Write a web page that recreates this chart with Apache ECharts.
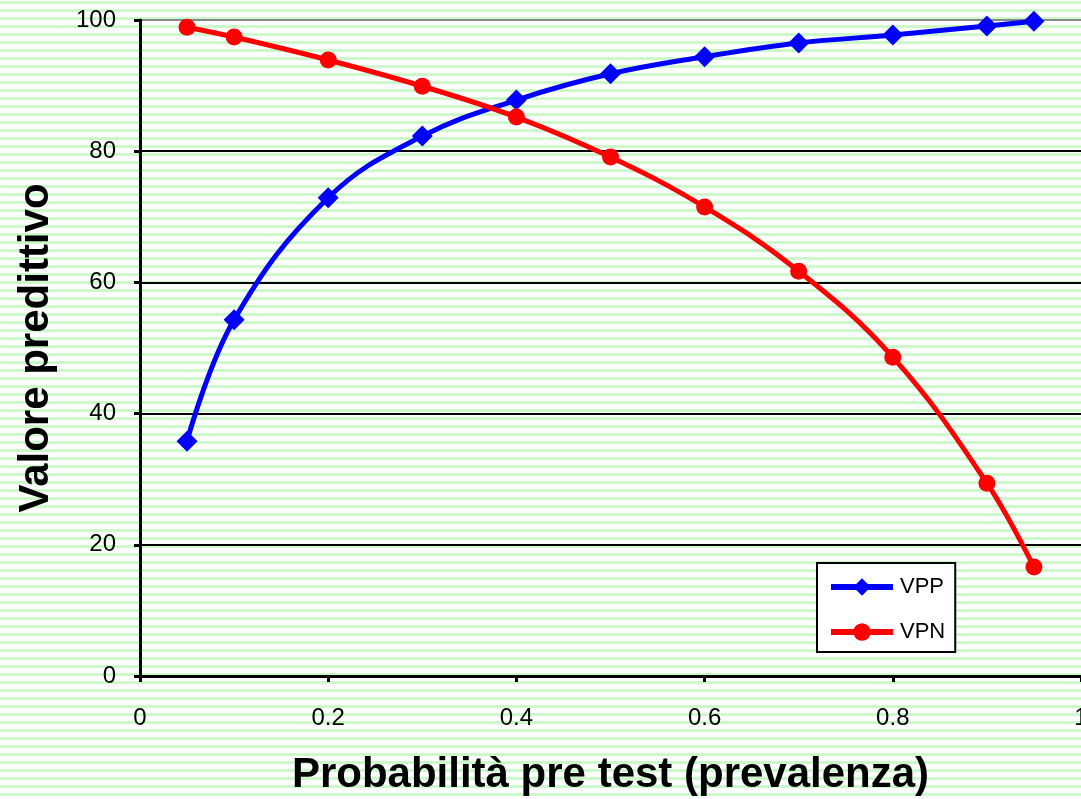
<!DOCTYPE html>
<html><head><meta charset="utf-8">
<script src="https://cdn.jsdelivr.net/npm/echarts@6/dist/echarts.min.js"></script>
<style>
html,body{margin:0;padding:0;width:1081px;height:799px;overflow:hidden;}
body{background:repeating-linear-gradient(to bottom,#ffffff 0px,#ffffff 1px,#ccf8cc 1px,#ccf8cc 4px,#ffffff 4px,#ffffff 8px);}
#c{width:1081px;height:799px;}
</style></head><body>
<div id="c"></div>
<script>
const prevalence = [0.05, 0.1, 0.2, 0.3, 0.4, 0.5, 0.6, 0.7, 0.8, 0.9, 0.95];
const vpp = [35.8, 54.3, 72.9, 82.3, 87.8, 91.8, 94.4, 96.5, 97.7, 99.1, 99.8];
const vpn = [98.9, 97.4, 93.9, 89.9, 85.2, 79.1, 71.5, 61.7, 48.6, 29.4, 16.6];
const seriesNames = ['VPP', 'VPN'];
const xTitle = 'Probabilità pre test (prevalenza)';
const yTitle = 'Valore predittivo';

const chart = echarts.init(document.getElementById('c'));
const font = 'Liberation Sans, Arial, sans-serif';
chart.setOption({
  backgroundColor: 'transparent',
  animation: false,
  grid: {left: 140, right: 0, top: 20, bottom: 123, containLabel: false, outerBoundsMode: 'none'},
  legend: {
    left: 817, top: 563, orient: 'vertical',
    backgroundColor: '#fff', borderColor: '#000', borderWidth: 2,
    padding: [13, 10, 9, 11], itemGap: 23, itemWidth: 62, itemHeight: 22,
    lineStyle: {width: 6},
    textStyle: {fontFamily: font, fontSize: 22, color: '#000', padding: [0, 0, 0, 2]},
    data: seriesNames
  },
  xAxis: {
    type: 'value', min: 0, max: 1, interval: 0.2,
    name: xTitle, nameLocation: 'middle', nameGap: 78,
    nameTextStyle: {fontFamily: font, fontSize: 42, fontWeight: 'bold', color: '#000'},
    axisLine: {show: true, lineStyle: {color: '#000', width: 3}},
    axisTick: {show: true, length: 6, lineStyle: {color: '#000', width: 3}},
    axisLabel: {fontFamily: font, fontSize: 24, color: '#000', margin: 30, showMaxLabel: true},
    splitLine: {show: false}
  },
  yAxis: {
    type: 'value', min: 0, max: 100, interval: 20,
    name: yTitle, nameLocation: 'middle', nameGap: 83,
    nameTextStyle: {fontFamily: font, fontSize: 42, fontWeight: 'bold', color: '#000'},
    axisLine: {show: true, lineStyle: {color: '#000', width: 3}},
    axisTick: {show: true, length: 6, lineStyle: {color: '#000', width: 3}},
    axisLabel: {fontFamily: font, fontSize: 24, color: '#000', margin: 24},
    splitLine: {show: true, lineStyle: {color: ['#000','#000','#000','#000','#000','#888'], width: 2}}
  },
  series: [
    {
      name: seriesNames[0], type: 'line', smooth: 0.4,
      data: prevalence.map((x, i) => [x, vpp[i]]),
      symbol: 'diamond', symbolSize: 21,
      lineStyle: {color: '#0000ff', width: 5},
      itemStyle: {color: '#0000ff'}
    },
    {
      name: seriesNames[1], type: 'line', smooth: 0.4,
      data: prevalence.map((x, i) => [x, vpn[i]]),
      symbol: 'circle', symbolSize: 17,
      lineStyle: {color: '#ff0000', width: 5},
      itemStyle: {color: '#ff0000'}
    }
  ]
});
</script>
</body></html>
